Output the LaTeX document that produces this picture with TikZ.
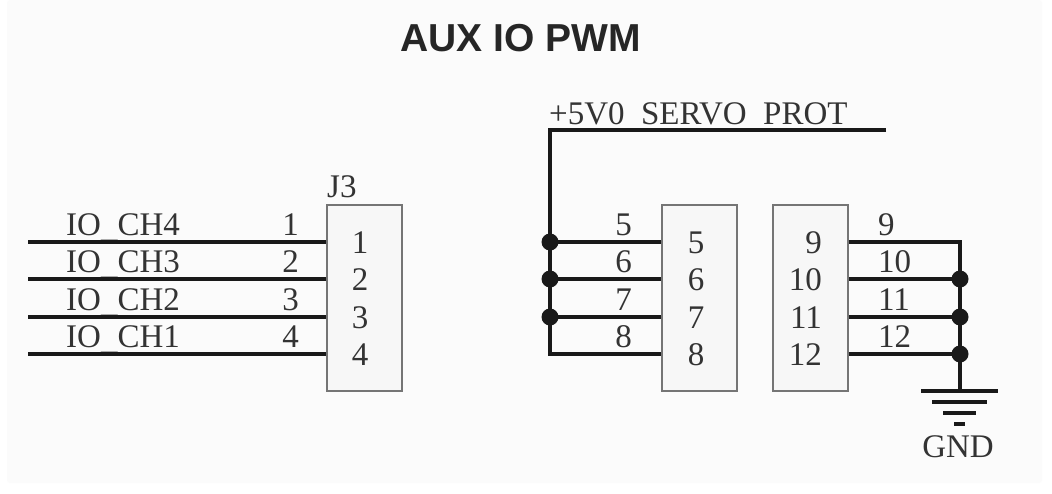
\documentclass[tikz,border=0pt]{standalone}
\usepackage{fontspec}
\setmainfont{Liberation Serif}
\newfontfamily\titlefont{Liberation Sans}
\definecolor{pagegray}{HTML}{FBFBFB}
\definecolor{boxgray}{HTML}{F7F7F7}
\definecolor{edgegray}{HTML}{757575}
\definecolor{textgray}{HTML}{333333}
\newcommand{\netbar}{\raisebox{-2.5pt}{\_}}
\tikzset{
  conn/.style={draw=edgegray,fill=boxgray,line width=1.8pt,minimum width=75pt,minimum height=186pt,inner sep=0pt},
  wire/.style={line width=3.4pt,black!90},
  junction/.style={circle,fill=black!90,minimum size=17pt,inner sep=0pt},
  lab/.style={font=\fontsize{33}{33}\selectfont,text=textgray,inner sep=0pt}
}
\begin{document}
\begin{tikzpicture}[x=1pt,y=-1pt,line cap=butt]
      \fill[white] (0,0) rectangle (1052,493);
      \useasboundingbox (0,0) rectangle (1052,493);
      \fill[pagegray,rounded corners=3pt] (7,0) rectangle (1042,483);
      \node (title) [anchor=base,inner sep=0pt,text=black!85,font=\titlefont\bfseries\fontsize{39}{39}\selectfont] at (520.5,51) {AUX IO PWM};
      % connector bodies
      \node (J3) [conn] at (364.5,298) {};
      \node (J3b) [conn] at (699.5,298) {};
      \node (J3c) [conn] at (810.5,298) {};
      \node (J3name) [lab,anchor=base west] at (327,197) {J3};
      % left header
      \foreach \n/\y/\txt in {1/242/IO\netbar CH4,2/279/IO\netbar CH3,3/317/IO\netbar CH2,4/354/IO\netbar CH1}{
        \node (net\n) [lab,anchor=base west] at (66,\y-7) {\txt};
        \node (num\n) [lab,anchor=base east] at (299,\y-7) {\n};
        \node (pin\n) [lab,anchor=base] at (360,\y+11) {\n};
        \coordinate (a\n) at (28,\y);
        \coordinate (p\n) at (J3.west |- a\n);
        \draw[wire] (a\n) -- (p\n);
      }
      % servo power
      \coordinate (rail) at (886,130);
      \coordinate (corner) at (550,130);
      \node (railname) [lab,anchor=base west] at (549,124) {+5V0\netbar SERVO\netbar PROT};
      \foreach \n/\y in {5/242,6/279,7/317,8/354}{
        \coordinate (b\n) at (550,\y);
        \coordinate (p\n) at (J3b.west |- b\n);
        \draw[wire] (b\n) -- (p\n);
        \node (num\n) [lab,anchor=base east] at (632,\y-7) {\n};
        \node (pin\n) [lab,anchor=base] at (696,\y+11) {\n};
      }
      \draw[wire,line join=miter] (rail) -- (corner) -- (b8) -- (p8);
      \foreach \n in {5,6,7}{ \node (dot\n) [junction] at (b\n) {}; }
      % ground side
      \foreach \n/\y in {9/242,10/279,11/317,12/354}{
        \coordinate (c\n) at (960,\y);
        \coordinate (p\n) at (J3c.east |- c\n);
        \draw[wire] (p\n) -- (c\n);
        \node (num\n) [lab,anchor=base west] at (878,\y-7) {\n};
        \node (pin\n) [lab,anchor=base east] at (822,\y+11) {\n};
      }
      \coordinate (gnd) at (960,391);
      \draw[wire,line join=miter] (p9) -- (c9) -- (gnd);
      \foreach \n in {10,11,12}{ \node (dot\n) [junction] at (c\n) {}; }
      \draw[wire] ([xshift=-39pt]gnd) -- ([xshift=38pt]gnd);
      \draw[wire] (932,402) -- (987,402);
      \draw[wire] (943,413) -- (976,413);
      \draw[wire] (954,424) -- (965,424);
      \node (gndname) [lab,anchor=base] at (958,457) {GND};
    \end{tikzpicture}
\end{document}
